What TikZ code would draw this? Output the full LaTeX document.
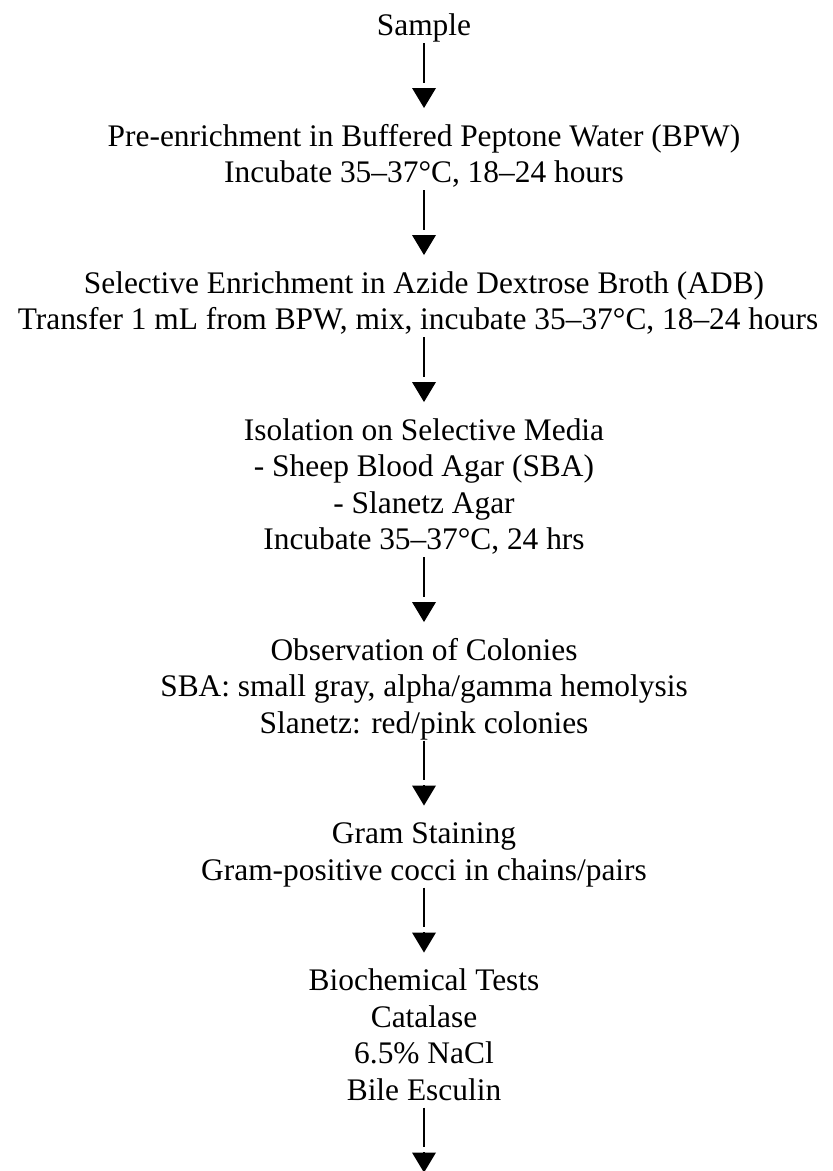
\documentclass[tikz,border=0pt]{standalone}
\usepackage{fontspec}
\setmainfont{Liberation Serif}
\usetikzlibrary{arrows.meta,positioning}
\begin{document}
\begin{tikzpicture}[x=1pt,y=-1pt,
  stepnode/.style={inner sep=0pt,outer sep=0pt,align=center,font=\fontsize{31.4}{36.5}\selectfont},
  flow/.style={line width=2.6pt,shorten <=-3.45pt,shorten >=37.95pt,
    postaction={draw,shorten <=41.3pt,shorten >=12.45pt,
      -{Triangle[width=24pt,length=20pt,line width=0pt]}}}]
\useasboundingbox (0,0) rectangle (833,1171);
\node[stepnode,anchor=north] (s1) at (424,9.95) {\strut Sample\strut};
\node[stepnode,below=74pt of s1] (s2) {\strut Pre-enrichment in Buffered Peptone Water (BPW)\\ Incubate 35–37°C, 18–24 hours\strut};
\node[stepnode,below=74pt of s2] (s3) {\strut Selective Enrichment in Azide Dextrose Broth (ADB)\\ Transfer 1 mL from BPW, mix, incubate 35–37°C, 18–24 hours\hspace*{12pt}\strut};
\node[stepnode,below=74pt of s3] (s4) {\strut Isolation on Selective Media\\ - Sheep Blood Agar (SBA)\\ - Slanetz Agar\\ Incubate 35–37°C, 24 hrs\strut};
\node[stepnode,below=74pt of s4] (s5) {\strut Observation of Colonies\\ SBA: small gray, alpha/gamma hemolysis\\ Slanetz: red/pink colonies\strut};
\node[stepnode,below=74pt of s5] (s6) {\strut Gram Staining\\ Gram-positive cocci in chains/pairs\strut};
\node[stepnode,below=74pt of s6] (s7) {\strut Biochemical Tests\\ Catalase\\ 6.5\% NaCl\\ Bile Esculin\strut};
\coordinate[below=74pt of s7] (end);
\draw[flow] (s1.south) -- (s2.north);
\draw[flow] (s2.south) -- (s3.north);
\draw[flow] (s3.south) -- (s4.north);
\draw[flow] (s4.south) -- (s5.north);
\draw[flow] (s5.south) -- (s6.north);
\draw[flow] (s6.south) -- (s7.north);
\draw[flow] (s7.south) -- (end);
\end{tikzpicture}
\end{document}
